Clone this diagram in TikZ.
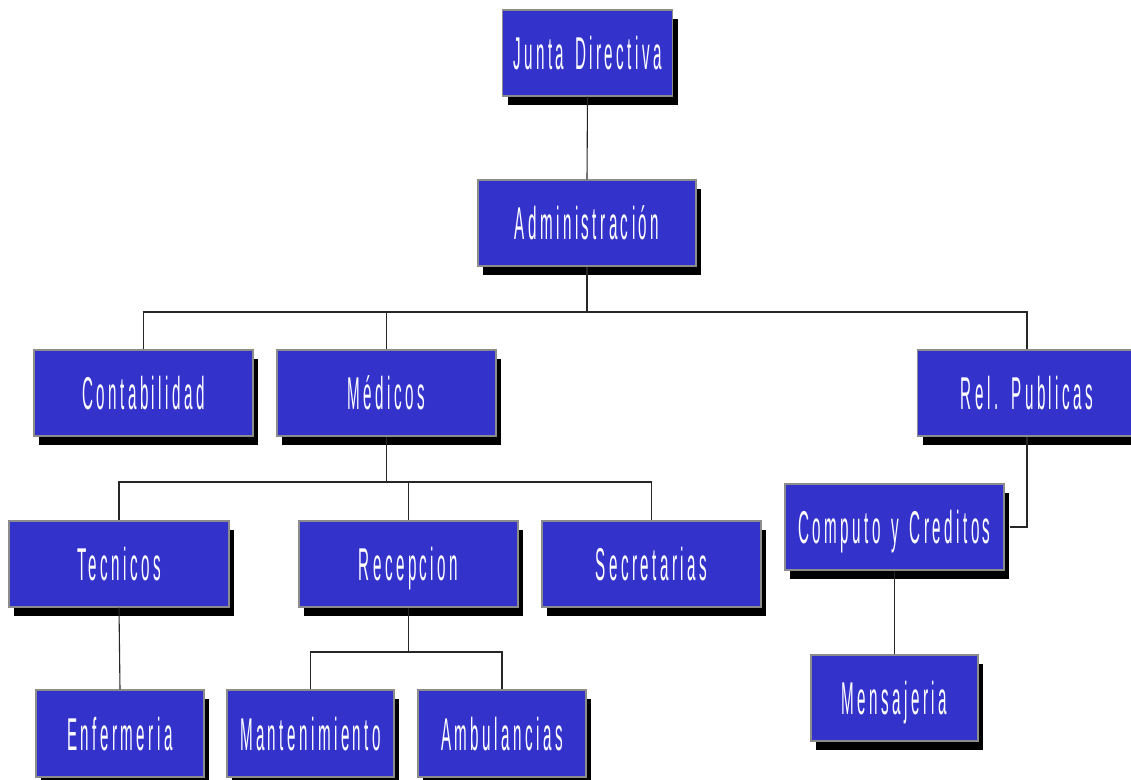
\documentclass[tikz,border=0pt]{standalone}
\usepackage{fontspec}
\usetikzlibrary{shadows}
\newfontfamily\orgfont[FakeStretch=0.33,LetterSpace=7.5,WordSpace=1.4]{Liberation Sans}
\definecolor{boxblue}{HTML}{3333CC}
\definecolor{boxedge}{HTML}{8C8C8C}
\begin{document}
\begin{tikzpicture}[x=1pt,y=-1pt,
  orgbox/.style={draw=boxedge,line width=1.2pt,fill=boxblue,text=white,
    minimum height=86pt,inner sep=0pt,text height=33pt,text depth=0pt,
    font=\orgfont\fontsize{46}{50}\selectfont,
    drop shadow={shadow xshift=5pt,shadow yshift=-9pt,fill=black,opacity=1}},
  link/.style={draw=black!85,line width=1.1pt}]
\clip (0,0) rectangle (1131,779);
\useasboundingbox (0,0) rectangle (1131,779);
\fill[white] (0,0) rectangle (1131,779);
\node[orgbox,minimum width=170pt] (junta) at (587.5,53) {Junta Directiva};
\node[orgbox,minimum width=218pt] (admin) at (587,223) {Administración};
\node[orgbox,minimum width=219pt] (conta) at (143.5,393) {Contabilidad};
\node[orgbox,minimum width=219pt] (medicos) at (386.5,393) {Médicos};
\node[orgbox,minimum width=219pt] (relpub) at (1027,393) {Rel. Publicas};
\node[orgbox,minimum width=220pt] (tecnicos) at (119,564) {Tecnicos};
\node[orgbox,minimum width=219pt] (recepcion) at (408.5,564) {Recepcion};
\node[orgbox,minimum width=219pt] (secretarias) at (651.5,564) {Secretarias};
\node[orgbox,minimum width=219pt] (computo) at (894.5,527) {Computo y Creditos};
\node[orgbox,minimum width=168pt,minimum height=87pt] (enfermeria) at (120,733.5) {Enfermeria};
\node[orgbox,minimum width=167pt,minimum height=87pt] (mantenimiento) at (310.5,733.5) {Mantenimiento};
\node[orgbox,minimum width=168pt,minimum height=87pt] (ambulancias) at (502,733.5) {Ambulancias};
\node[orgbox,minimum width=167pt] (mensajeria) at (894.5,698) {Mensajeria};
\coordinate (bus1) at (587,312);
\coordinate (bus2) at (386.5,482);
\coordinate (bus3) at (408.5,652);
\draw[link] (junta.south) -- (admin.north);
\draw[link] (admin.south) -- (bus1);
\draw[link] (conta.north) |- (bus1) -| (relpub.north);
\draw[link] (medicos.north) -- (medicos.north |- bus1);
\draw[link] (medicos.south) -- (bus2);
\draw[link] (tecnicos.north) |- (bus2) -| (secretarias.north);
\draw[link] (recepcion.north) -- (recepcion.north |- bus2);
\draw[link] (relpub.south) |- ([xshift=5pt]computo.east);
\draw[link] (tecnicos.south) -- (enfermeria.north);
\draw[link] (recepcion.south) -- (bus3);
\draw[link] (mantenimiento.north) |- (bus3) -| (ambulancias.north);
\draw[link] (computo.south) -- (mensajeria.north);
\end{tikzpicture}
\end{document}
